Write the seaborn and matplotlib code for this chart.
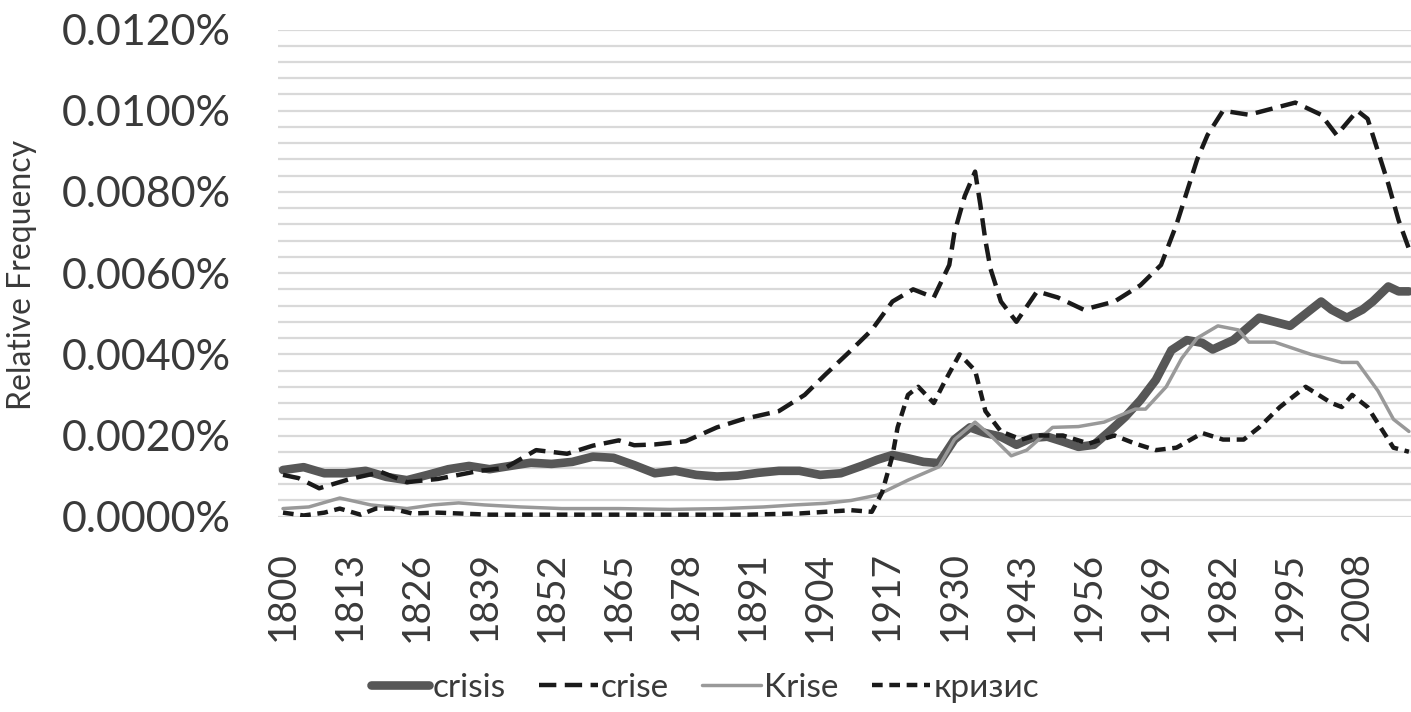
import numpy as np
import pandas as pd
import matplotlib
matplotlib.use("Agg")
import matplotlib.pyplot as plt
import seaborn as sns
from matplotlib.ticker import FuncFormatter, MultipleLocator

# ---------------- data (relative frequency in %) ----------------
crisis_years = [1800, 1804, 1808, 1812, 1816, 1820, 1824, 1828, 1832, 1836, 1840, 1844, 1848,
                1852, 1856, 1860, 1864, 1868, 1872, 1876, 1880, 1884, 1888, 1892, 1896, 1900,
                1904, 1908, 1912, 1915, 1918, 1921, 1924, 1927, 1930, 1933, 1936, 1939, 1942,
                1945, 1948, 1951, 1954, 1957, 1960, 1963, 1966, 1969, 1972, 1975, 1978, 1980,
                1984, 1989, 1992, 1995, 1998, 2001, 2003, 2006, 2009, 2011, 2014, 2016, 2018]
crisis_vals = [0.00115, 0.00122, 0.00107, 0.00107, 0.00113, 0.00098, 0.00090, 0.00103, 0.00117,
               0.00125, 0.00117, 0.00125, 0.00133, 0.00130, 0.00135, 0.00148, 0.00145, 0.00127,
               0.00107, 0.00113, 0.00103, 0.00099, 0.00101, 0.00108, 0.00113, 0.00113, 0.00103,
               0.00107, 0.00125, 0.00140, 0.00152, 0.00144, 0.00135, 0.00132, 0.00190, 0.00220,
               0.00206, 0.00197, 0.00177, 0.00194, 0.00197, 0.00185, 0.00172, 0.00177, 0.00210,
               0.00245, 0.00287, 0.00337, 0.00410, 0.00435, 0.00428, 0.00412, 0.00435, 0.00490,
               0.00480, 0.00470, 0.00500, 0.00530, 0.00510, 0.00490, 0.00510, 0.00530, 0.00567,
               0.00555, 0.00555]

crise_years = [1800, 1803, 1807, 1813, 1819, 1824, 1830, 1838, 1843, 1849, 1855, 1860, 1865,
               1868, 1872, 1878, 1884, 1889, 1896, 1901, 1905, 1910, 1914, 1918, 1922, 1926,
               1929, 1930, 1932, 1934, 1935, 1936, 1937, 1939, 1942, 1946, 1950, 1955, 1961,
               1966, 1970, 1973, 1975, 1977, 1979, 1982, 1987, 1993, 1996, 2001, 2004, 2008,
               2010, 2012, 2014, 2016, 2018]
crise_vals = [0.00103, 0.00095, 0.00070, 0.00093, 0.00110, 0.00085, 0.00093, 0.00113, 0.00120,
              0.00164, 0.00155, 0.00175, 0.00188, 0.00176, 0.00178, 0.00186, 0.00220, 0.00240,
              0.00260, 0.00300, 0.00350, 0.00410, 0.00460, 0.00530, 0.00560, 0.00540, 0.00620,
              0.00700, 0.00790, 0.00850, 0.00770, 0.00680, 0.00610, 0.00530, 0.00480, 0.00555,
              0.00540, 0.00510, 0.00530, 0.00570, 0.00620, 0.00720, 0.00800, 0.00880, 0.00940,
              0.01000, 0.00990, 0.01010, 0.01020, 0.00990, 0.00940, 0.01000, 0.00980, 0.00900,
              0.00820, 0.00730, 0.00660]

krise_years = [1800, 1805, 1811, 1817, 1824, 1829, 1834, 1839, 1846, 1854, 1865, 1875, 1885,
               1893, 1899, 1905, 1910, 1915, 1921, 1927, 1930, 1934, 1937, 1941, 1944, 1949,
               1954, 1959, 1965, 1967, 1971, 1974, 1977, 1981, 1985, 1987, 1992, 1999, 2005,
               2008, 2012, 2015, 2018]
krise_vals = [0.00020, 0.00024, 0.00046, 0.00029, 0.00020, 0.00029, 0.00034, 0.00029, 0.00024,
              0.00020, 0.00020, 0.00018, 0.00020, 0.00024, 0.00029, 0.00033, 0.00040, 0.00053,
              0.00090, 0.00123, 0.00190, 0.00233, 0.00200, 0.00150, 0.00164, 0.00220, 0.00222,
              0.00233, 0.00265, 0.00265, 0.00320, 0.00390, 0.00440, 0.00470, 0.00460, 0.00430,
              0.00430, 0.00400, 0.00380, 0.00380, 0.00310, 0.00240, 0.00210]

krizis_years = [1800, 1804, 1808, 1811, 1815, 1818, 1821, 1825, 1830, 1840, 1850, 1860, 1870,
                1880, 1890, 1900, 1905, 1910, 1914, 1916, 1918, 1919, 1921, 1923, 1926, 1928,
                1931, 1934, 1936, 1939, 1943, 1946, 1951, 1956, 1961, 1965, 1969, 1973, 1978,
                1982, 1986, 1989, 1993, 1998, 2003, 2005, 2007, 2010, 2013, 2015, 2018]
krizis_vals = [0.00010, 0.00003, 0.00010, 0.00020, 0.00005, 0.00020, 0.00020, 0.00008, 0.00010,
               0.00005, 0.00005, 0.00005, 0.00005, 0.00005, 0.00005, 0.00008, 0.00012, 0.00016,
               0.00012, 0.00060, 0.00150, 0.00220, 0.00300, 0.00320, 0.00280, 0.00330, 0.00400,
               0.00360, 0.00260, 0.00210, 0.00190, 0.00200, 0.00200, 0.00180, 0.00200, 0.00180,
               0.00164, 0.00170, 0.00206, 0.00190, 0.00190, 0.00220, 0.00270, 0.00320, 0.00280,
               0.00270, 0.00300, 0.00270, 0.00210, 0.00170, 0.00160]

x_tick_years = list(range(1800, 2009, 13))
y_ticks = [0.0, 0.002, 0.004, 0.006, 0.008, 0.010, 0.012]
series_labels = ["crisis", "crise", "Krise", "кризис"]

# ---------------- style ----------------
sns.set_theme(style="white")
plt.rcParams["font.family"] = ["Lato", "Open Sans", "DejaVu Sans"]
text_color = "#3a3a3a"

W, H = 1411, 712
fig = plt.figure(figsize=(W / 100, H / 100), dpi=100)
ax_left, ax_right = 278, 1411
ax_top, ax_bottom = 29.5, 516.7
ax = fig.add_axes([ax_left / W, 1 - ax_bottom / H, (ax_right - ax_left) / W, (ax_bottom - ax_top) / H])

specs = [
    (crisis_years, crisis_vals, "#575757", 6.2, None),
    (crise_years, crise_vals, "#1a1a1a", 3.2, (3.9, 1.9)),
    (krise_years, krise_vals, "#999999", 2.5, None),
    (krizis_years, krizis_vals, "#1a1a1a", 3.2, (2.4, 1.5)),
]
handles = []
for (yrs, vals, col, lw, dash), lab in zip(specs, series_labels):
    df = pd.DataFrame({"year": yrs, "value": vals})
    sns.lineplot(data=df, x="year", y="value", ax=ax, color=col, linewidth=lw, label=lab,
                 legend=False)
    line = ax.lines[-1]
    line.set_solid_capstyle("round")
    if dash is not None:
        line.set_dashes(dash)
        line.set_dash_capstyle("butt")
    handles.append(line)

ax.set_xlim(1799.03, 2018.4)
ax.set_ylim(0, 0.012)
ax.set_xticks(x_tick_years)
ax.set_xticklabels([str(y) for y in x_tick_years], rotation=90)
ax.set_yticks(y_ticks)
ax.yaxis.set_minor_locator(MultipleLocator(0.0004))
ax.yaxis.set_major_formatter(FuncFormatter(lambda v, p: f"{v:.4f}%"))
ax.grid(which="both", axis="y", color="#d9d9d9", linewidth=1.6)
ax.grid(which="both", axis="x", visible=False)
ax.set_axisbelow(True)
for s in ax.spines.values():
    s.set_visible(False)
ax.tick_params(axis="y", which="both", length=0, pad=34, labelsize=31, labelcolor=text_color)
ax.tick_params(axis="x", which="both", length=0, pad=25, labelsize=28, labelcolor=text_color)
ax.set_xlabel("")
ax.set_ylabel("")

fig.text(22 / W, 1 - 275 / H, "Relative Frequency", rotation=90, ha="center", va="center",
         fontsize=23, color=text_color)

fig.legend(handles, series_labels, loc="center", bbox_to_anchor=(705 / W, 1 - 688 / H), ncol=4,
           frameon=False, fontsize=24, handlelength=1.75, handletextpad=0.1, columnspacing=1.0,
           labelcolor=text_color)

fig.savefig("out.png", dpi=100, facecolor="white")
